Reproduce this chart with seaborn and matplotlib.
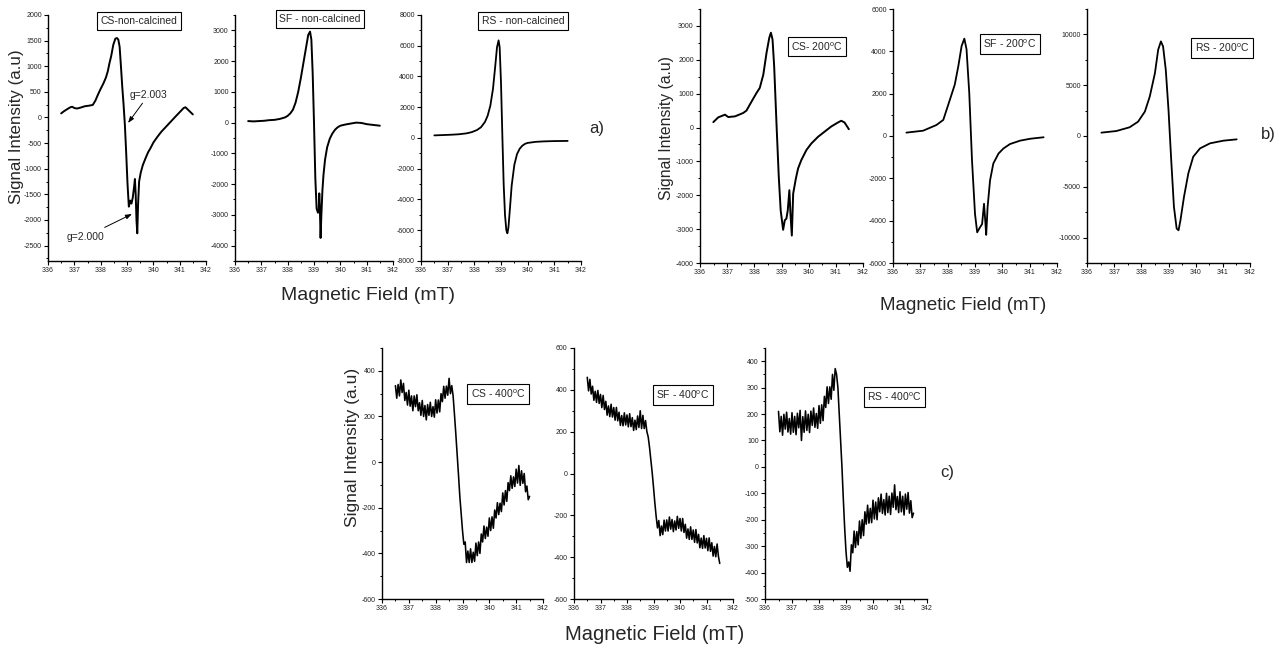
import matplotlib
matplotlib.use("Agg")
import matplotlib.pyplot as plt
from matplotlib.ticker import MultipleLocator, FuncFormatter
import seaborn as sns

# ---------------- data ----------------
# a) non-calcined
CS_NC_FIELD = [336.50, 336.60, 336.72, 336.85, 336.92, 337.00, 337.10, 337.25, 337.40, 337.55,
               337.70, 337.80, 337.90, 338.00, 338.10, 338.20, 338.27, 338.33, 338.40, 338.48,
               338.56, 338.62, 338.67, 338.72, 338.77, 338.82, 338.87, 338.92, 338.97, 339.02,
               339.07, 339.12, 339.17, 339.22, 339.27, 339.30, 339.33, 339.36, 339.39, 339.42,
               339.46, 339.52, 339.60, 339.70, 339.80, 339.90, 340.00, 340.15, 340.30, 340.50,
               340.70, 340.90, 341.05, 341.15, 341.22, 341.30, 341.40, 341.50]
CS_NC_SIGNAL = [80, 120, 160, 200, 210, 185, 175, 195, 220, 230,
                245, 330, 450, 560, 660, 780, 900, 1050, 1200, 1420,
                1540, 1550, 1520, 1380, 1000, 600, 250, -150, -700, -1300,
                -1740, -1620, -1680, -1560, -1350, -1200, -1500, -2000, -2260, -1700,
                -1250, -1080, -930, -800, -680, -590, -490, -380, -280, -170,
                -60, 50, 130, 185, 200, 160, 110, 60]

SF_NC_FIELD = [336.50, 336.70, 336.90, 337.10, 337.30, 337.50, 337.70, 337.90, 338.00, 338.10,
               338.20, 338.30, 338.40, 338.50, 338.60, 338.70, 338.78, 338.85, 338.90, 338.95,
               339.00, 339.05, 339.10, 339.15, 339.18, 339.20, 339.22, 339.25, 339.28, 339.32,
               339.36, 339.42, 339.50, 339.60, 339.70, 339.80, 339.90, 340.00, 340.20, 340.40,
               340.60, 340.80, 341.00, 341.20, 341.40, 341.50]
SF_NC_SIGNAL = [50, 40, 50, 60, 80, 90, 120, 170, 220, 300,
                420, 650, 1000, 1450, 1950, 2450, 2850, 2960, 2700, 1600,
                0, -1800, -2800, -2930, -2850, -2300, -2700, -3750, -3000, -2200,
                -1700, -1200, -800, -520, -350, -230, -150, -100, -60, -30,
                0, -10, -50, -70, -90, -100]

RS_NC_FIELD = [336.50, 336.80, 337.10, 337.40, 337.70, 337.90, 338.10, 338.25, 338.40, 338.50,
               338.60, 338.70, 338.78, 338.85, 338.91, 338.95, 339.00, 339.05, 339.10, 339.15,
               339.20, 339.24, 339.28, 339.33, 339.40, 339.50, 339.60, 339.70, 339.80, 339.90,
               340.00, 340.30, 340.60, 341.00, 341.50]
RS_NC_SIGNAL = [170, 190, 210, 240, 300, 380, 520, 700, 1050, 1450,
                2100, 3200, 4600, 5900, 6350, 5900, 3600, 200, -3000, -5000,
                -6000, -6200, -5800, -4700, -3100, -1750, -1050, -700, -500, -380,
                -320, -250, -220, -200, -190]

# b) 200 C
CS_200_FIELD = [336.49, 336.67, 336.92, 337.04, 337.29, 337.59, 337.71, 337.90, 338.08, 338.20,
                338.33, 338.45, 338.55, 338.61, 338.67, 338.73, 338.82, 338.90, 338.97, 339.06,
                339.12, 339.18, 339.23, 339.29, 339.33, 339.38, 339.43, 339.53, 339.61, 339.73,
                339.92, 340.10, 340.35, 340.59, 340.83, 341.08, 341.20, 341.32, 341.48]
CS_200_SIGNAL = [160, 300, 380, 310, 330, 430, 500, 770, 1020, 1170,
                 1560, 2210, 2650, 2800, 2600, 1810, 30, -1460, -2450, -3020,
                 -2740, -2690, -2450, -1850, -2550, -3190, -1950, -1500, -1210, -960,
                 -660, -470, -270, -120, 30, 150, 200, 150, -50]

SF_200_FIELD = [336.49, 337.10, 337.59, 337.84, 338.08, 338.26, 338.39, 338.51, 338.61, 338.69,
                338.79, 338.89, 339.00, 339.08, 339.18, 339.26, 339.33, 339.38, 339.41, 339.46,
                339.55, 339.67, 339.86, 340.04, 340.28, 340.65, 341.02, 341.51]
SF_200_SIGNAL = [160, 250, 520, 760, 1710, 2430, 3300, 4250, 4600, 4100,
                 2030, -1140, -3680, -4550, -4320, -4160, -3200, -4100, -4670, -3370,
                 -2100, -1300, -830, -590, -380, -220, -130, -60]

RS_200_FIELD = [336.53, 337.08, 337.57, 337.88, 338.13, 338.31, 338.50, 338.62, 338.72, 338.80,
                338.90, 339.00, 339.10, 339.20, 339.30, 339.37, 339.44, 339.57, 339.73, 339.91,
                340.16, 340.53, 341.02, 341.51]
RS_200_SIGNAL = [330, 490, 860, 1410, 2400, 3880, 6180, 8490, 9310, 8820,
                 6510, 2570, -2370, -6970, -9110, -9280, -8290, -5990, -3680, -2040,
                 -1220, -720, -460, -330]

# c) 400 C  (field sweep in 0.05 mT steps)
FIELD_400 = [336.50, 336.55, 336.60, 336.65, 336.70, 336.75, 336.80, 336.85, 336.90, 336.95,
             337.00, 337.05, 337.10, 337.15, 337.20, 337.25, 337.30, 337.35, 337.40, 337.45,
             337.50, 337.55, 337.60, 337.65, 337.70, 337.75, 337.80, 337.85, 337.90, 337.95,
             338.00, 338.05, 338.10, 338.15, 338.20, 338.25, 338.30, 338.35, 338.40, 338.45,
             338.50, 338.55, 338.60, 338.65, 338.70, 338.75, 338.80, 338.85, 338.90, 338.95,
             339.00, 339.05, 339.10, 339.15, 339.20, 339.25, 339.30, 339.35, 339.40, 339.45,
             339.50, 339.55, 339.60, 339.65, 339.70, 339.75, 339.80, 339.85, 339.90, 339.95,
             340.00, 340.05, 340.10, 340.15, 340.20, 340.25, 340.30, 340.35, 340.40, 340.45,
             340.50, 340.55, 340.60, 340.65, 340.70, 340.75, 340.80, 340.85, 340.90, 340.95,
             341.00, 341.05, 341.10, 341.15, 341.20, 341.25, 341.30, 341.35, 341.40, 341.45,
             341.50]
CS_400_SIGNAL = [335, 280, 340, 290, 360, 305, 345, 270, 305, 250,
                 315, 245, 290, 225, 290, 243, 295, 225, 260, 205,
                 270, 200, 248, 185, 252, 205, 262, 200, 243, 197,
                 273, 215, 272, 220, 300, 265, 332, 280, 333, 293,
                 367, 300, 335, 290, 210, 125, 35, -55, -150, -225,
                 -300, -360, -350, -440, -390, -440, -380, -440, -395, -435,
                 -355, -410, -350, -400, -315, -350, -280, -335, -285, -325,
                 -245, -300, -240, -290, -210, -245, -178, -230, -180, -217,
                 -135, -188, -125, -172, -90, -125, -60, -115, -65, -107,
                 -31, -92, -15, -102, -38, -93, -50, -130, -105, -165,
                 -150]
SF_400_SIGNAL = [460, 395, 450, 380, 417, 350, 393, 340, 397, 335,
                 378, 315, 373, 306, 345, 279, 323, 272, 331, 270,
                 315, 255, 316, 252, 293, 230, 277, 228, 290, 232,
                 280, 223, 286, 224, 267, 206, 255, 210, 275, 220,
                 300, 215, 278, 215, 253, 200, 175, 125, 65, 5,
                 -65, -140, -205, -260, -225, -297, -251, -292, -223, -275,
                 -222, -275, -208, -266, -220, -278, -227, -270, -205, -262,
                 -215, -275, -215, -282, -243, -309, -265, -315, -255, -315,
                 -270, -329, -268, -332, -291, -355, -309, -358, -297, -356,
                 -310, -369, -308, -372, -331, -395, -349, -398, -337, -396,
                 -430]
RS_400_SIGNAL = [210, 133, 191, 120, 199, 143, 207, 132, 183, 124,
                 205, 131, 191, 122, 203, 148, 214, 100, 190, 131,
                 212, 138, 199, 130, 211, 157, 223, 150, 202, 146,
                 232, 165, 235, 175, 267, 225, 303, 240, 303, 256,
                 350, 290, 372, 350, 300, 200, 100, 0, -120, -230,
                 -320, -380, -360, -395, -295, -325, -243, -305, -245, -295,
                 -205, -270, -200, -260, -170, -217, -145, -213, -157, -211,
                 -126, -197, -133, -200, -117, -170, -103, -176, -124, -182,
                 -100, -173, -111, -180, -99, -153, -68, -162, -112, -173,
                 -94, -170, -111, -182, -103, -160, -97, -175, -128, -192,
                 -175]

PANEL_LABELS = ["CS-non-calcined", "SF - non-calcined", "RS - non-calcined",
                "CS- 200$^{\\mathregular{o}}$C", "SF - 200$^{\\mathregular{o}}$C", "RS - 200$^{\\mathregular{o}}$C",
                "CS - 400$^{\\mathregular{o}}$C", "SF - 400$^{\\mathregular{o}}$C", "RS - 400$^{\\mathregular{o}}$C"]
X_TICKS = [336, 337, 338, 339, 340, 341, 342]
Y_LABEL = "Signal Intensity (a.u)"
X_LABEL = "Magnetic Field (mT)"

# ---------------- style ----------------
sns.set_style("ticks")
plt.rcParams['font.family'] = ['Liberation Sans', 'DejaVu Sans']
plt.rcParams['axes.unicode_minus'] = False
plt.rcParams['mathtext.fontset'] = 'custom'
plt.rcParams['mathtext.rm'] = 'Liberation Sans'
plt.rcParams['mathtext.it'] = 'Liberation Sans:italic'
plt.rcParams['mathtext.bf'] = 'Liberation Sans:bold'

W, H = 1287, 649
fig = plt.figure(figsize=(W / 100, H / 100), dpi=100)
fig.patch.set_facecolor('white')

# (field, signal, pixel box l,r,t,b, ylim, ymajor, yminor, label box pos, linewidth)
panels = [
    (CS_NC_FIELD, CS_NC_SIGNAL, (48, 206, 15, 261), (-2800, 2000), 500, 250, (0.576, 0.976), 1.4),
    (SF_NC_FIELD, SF_NC_SIGNAL, (235, 393, 15, 261), (-4500, 3500), 1000, 500, (0.538, 0.984), 1.4),
    (RS_NC_FIELD, RS_NC_SIGNAL, (421, 581, 15, 261), (-8000, 8000), 2000, 1000, (0.6375, 0.976), 1.3),
    (CS_200_FIELD, CS_200_SIGNAL, (700, 863, 9, 263), (-4000, 3500), 1000, 500, (0.718, 0.852), 1.4),
    (SF_200_FIELD, SF_200_SIGNAL, (893, 1057, 9, 263), (-6000, 6000), 2000, 1000, (0.713, 0.862), 1.3),
    (RS_200_FIELD, RS_200_SIGNAL, (1087, 1250, 9, 263), (-12500, 12500), 5000, 2500, (0.828, 0.846), 1.3),
    (FIELD_400, CS_400_SIGNAL, (382, 543, 348, 599), (-600, 500), 200, 100, (0.72, 0.817), 1.15),
    (FIELD_400, SF_400_SIGNAL, (574, 733, 348, 599), (-600, 600), 200, 100, (0.686, 0.813), 1.15),
    (FIELD_400, RS_400_SIGNAL, (765, 927, 348, 599), (-500, 450), 100, 50, (0.80, 0.805), 1.15),
]

axes = []
for i, (fx, sy, (l, r, t, b), ylim, ymaj, ymin, boxpos, lw) in enumerate(panels):
    ax = fig.add_axes([l / W, 1 - b / H, (r - l) / W, (b - t) / H])
    ax.set_facecolor('none')
    sns.lineplot(x=fx, y=sy, ax=ax, color='black', linewidth=lw,
                 estimator=None, sort=False, legend=False)
    ax.set_xlim(336, 342)
    ax.set_ylim(*ylim)
    ax.set_xticks(X_TICKS)
    ax.xaxis.set_minor_locator(MultipleLocator(0.5))
    ax.yaxis.set_major_locator(MultipleLocator(ymaj))
    ax.yaxis.set_minor_locator(MultipleLocator(ymin))
    ax.yaxis.set_major_formatter(FuncFormatter(lambda v, p: f"{int(round(v))}"))
    ax.set_xlabel("")
    ax.set_ylabel("")
    for s in ['top', 'right']:
        ax.spines[s].set_visible(False)
    for s in ['left', 'bottom']:
        ax.spines[s].set_linewidth(1.0)
        ax.spines[s].set_color('black')
    ax.tick_params(which='major', length=3, width=0.8, labelsize=5, pad=1.5,
                   colors='black', labelcolor='#222222')
    ax.tick_params(which='minor', length=1.6, width=0.7, colors='black')
    ax.text(boxpos[0], boxpos[1], PANEL_LABELS[i], transform=ax.transAxes,
            ha='center', va='center', fontsize=7.5, clip_on=False, zorder=5,
            bbox=dict(boxstyle='square,pad=0.35', fc='white', ec='black', lw=0.8))
    axes.append(ax)

# annotations in CS non-calcined panel
ax0 = axes[0]
ax0.annotate("g=2.003", xy=(339.04, -107), xytext=(339.1, 440), fontsize=7.5,
             ha='left', va='center',
             arrowprops=dict(arrowstyle='-|>,head_length=0.5,head_width=0.18', color='black',
                             lw=0.7, shrinkA=0, shrinkB=0),
             annotation_clip=False)
ax0.annotate("g=2.000", xy=(339.19, -1883), xytext=(336.7, -2330), fontsize=7.5,
             ha='left', va='center',
             arrowprops=dict(arrowstyle='-|>,head_length=0.5,head_width=0.18', color='black',
                             lw=0.7, shrinkA=2, shrinkB=0),
             annotation_clip=False)

# axis titles and row labels
def ftext(x, y, s, **kw):
    fig.text(x / W, 1 - y / H, s, **kw)

ftext(17, 127, Y_LABEL, rotation=90, ha='center', va='center', fontsize=12.2)
ftext(667, 128, Y_LABEL, rotation=90, ha='center', va='center', fontsize=11.3)
ftext(352, 447, Y_LABEL, rotation=90, ha='center', va='center', fontsize=12.5)
ftext(368, 295, X_LABEL, ha='center', va='center', fontsize=14)
ftext(963, 305, X_LABEL, ha='center', va='center', fontsize=13.5)
ftext(655, 634, X_LABEL, ha='center', va='center', fontsize=14.5)
ftext(597, 128, "a)", ha='center', va='center', fontsize=12)
ftext(1268, 135, "b)", ha='center', va='center', fontsize=12)
ftext(947, 472, "c)", ha='center', va='center', fontsize=12)

fig.savefig("out.png", dpi=100, facecolor='white')
